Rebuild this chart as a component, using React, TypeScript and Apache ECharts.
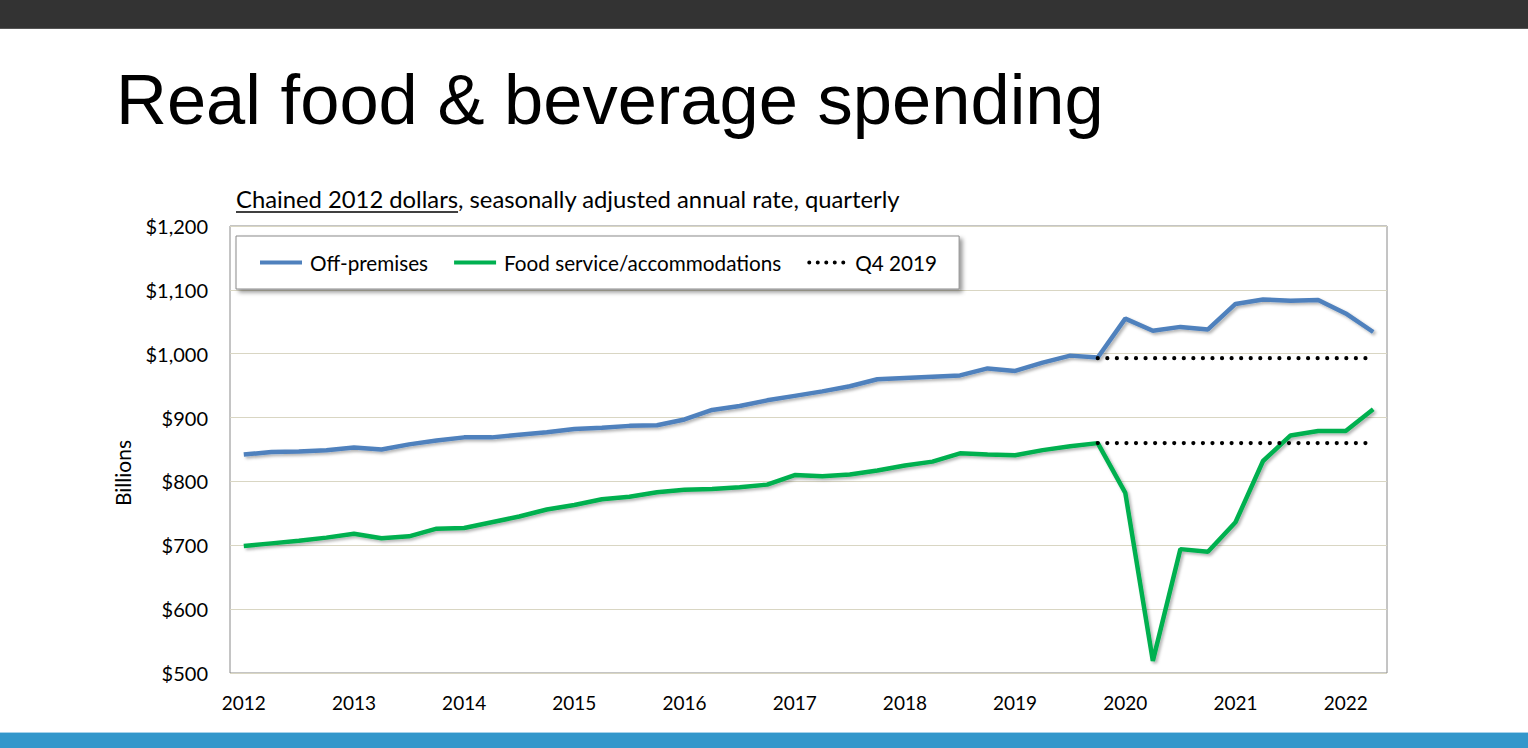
import React, { useEffect, useRef } from "react";
import * as echarts from "echarts";

const categories = [
  "2012Q1","2012Q2","2012Q3","2012Q4","2013Q1","2013Q2","2013Q3","2013Q4",
  "2014Q1","2014Q2","2014Q3","2014Q4","2015Q1","2015Q2","2015Q3","2015Q4",
  "2016Q1","2016Q2","2016Q3","2016Q4","2017Q1","2017Q2","2017Q3","2017Q4",
  "2018Q1","2018Q2","2018Q3","2018Q4","2019Q1","2019Q2","2019Q3","2019Q4",
  "2020Q1","2020Q2","2020Q3","2020Q4","2021Q1","2021Q2","2021Q3","2021Q4",
  "2022Q1","2022Q2",
];

const offPremises = [
  842, 846, 847, 849, 853, 850, 858, 864, 869, 869, 873, 877, 882, 884, 887, 888,
  897, 912, 918, 927, 934, 941, 949, 960, 962, 964, 966, 977, 973, 986, 997, 994,
  1055, 1036, 1042, 1038, 1078, 1085, 1083, 1084, 1063, 1034,
];

const foodService = [
  699, 703, 707, 712, 718, 711, 714, 726, 727, 736, 745, 756, 763, 772, 776, 783,
  787, 788, 791, 795, 810, 808, 811, 817, 825, 831, 844, 842, 841, 849, 855, 860,
  782, 519, 694, 690, 736, 832, 872, 879, 879, 913,
];

const q4Index = 31;
const q4OffValue = 993;
const q4FoodValue = 860;

const yTicks = { min: 500, max: 1200, interval: 100 };

const titleText = "Real food & beverage spending";
const subtitleUnderlined = "Chained 2012 dollars";
const subtitleRest = ", seasonally adjusted annual rate, quarterly";
const yAxisName = "Billions";

const FONT = "Lato, 'Noto Sans', sans-serif";

const DOTS_ICON =
  "path://M2,0A2,2,0,1,1,2,4A2,2,0,1,1,2,0Z" +
  "M10.5,0A2,2,0,1,1,10.5,4A2,2,0,1,1,10.5,0Z" +
  "M19,0A2,2,0,1,1,19,4A2,2,0,1,1,19,0Z" +
  "M27.5,0A2,2,0,1,1,27.5,4A2,2,0,1,1,27.5,0Z" +
  "M36,0A2,2,0,1,1,36,4A2,2,0,1,1,36,0Z";

function measure(text: string, font: string): number {
  const c = document.createElement("canvas");
  const ctx = c.getContext("2d");
  if (!ctx) return text.length * 10;
  ctx.font = font;
  return ctx.measureText(text).width;
}

export default function App() {
  const ref = useRef<HTMLDivElement>(null);

  useEffect(() => {
    if (!ref.current) return;
    const chart = echarts.init(ref.current, undefined, { renderer: "svg" });

    const q4Off = categories.map((_, i) => (i >= q4Index ? q4OffValue : null));
    const q4Food = categories.map((_, i) => (i >= q4Index ? q4FoodValue : null));

    const subSize = 23.8;
    const underlineW = measure(subtitleUnderlined, `${subSize}px Lato`);

    const shadow = {
      shadowColor: "rgba(0,0,0,0.3)",
      shadowBlur: 3,
      shadowOffsetX: 2,
      shadowOffsetY: 2,
    };

    const dotted = {
      width: 4.2,
      color: "#000000",
      type: [0.01, 9.55],
      cap: "round",
    };

    chart.setOption({
      animation: false,
      backgroundColor: "#ffffff",
      textStyle: { fontFamily: FONT },
      graphic: [
        { type: "rect", shape: { x: 0, y: 0, width: 1528, height: 28 }, style: { fill: "#333333" }, silent: true },
        { type: "rect", shape: { x: 0, y: 28, width: 1528, height: 1 }, style: { fill: "#555555" }, silent: true },
        { type: "rect", shape: { x: 0, y: 733, width: 1528, height: 15 }, style: { fill: "#3397CB" }, silent: true },
        { type: "rect", shape: { x: 0, y: 732, width: 1528, height: 1 }, style: { fill: "#A6D2EA" }, silent: true },
        {
          type: "text",
          left: 116,
          top: 64,
          style: {
            text: titleText,
            font: "70.5px 'Liberation Sans', Arial, sans-serif",
            fill: "#000000",
          },
        },
        {
          type: "text",
          x: 236,
          y: 199,
          style: {
            text: subtitleUnderlined + subtitleRest,
            font: `${subSize}px Lato`,
            fill: "#000000",
            verticalAlign: "middle",
            align: "left",
          },
        },
        {
          type: "line",
          shape: { x1: 236, y1: 212, x2: 236 + underlineW, y2: 212 },
          style: { stroke: "#000000", lineWidth: 1.5 },
        },
        {
          type: "text",
          x: 122,
          y: 473,
          rotation: Math.PI / 2,
          style: {
            text: yAxisName,
            font: "21px Lato",
            fill: "#000000",
            align: "center",
            verticalAlign: "middle",
          },
        },
      ],
      legend: {
        left: 236,
        top: 236,
        orient: "horizontal",
        padding: [16, 22, 16, 24],
        itemWidth: 42,
        itemHeight: 4,
        itemGap: 26,
        backgroundColor: "#ffffff",
        borderColor: "#8a8a8a",
        borderWidth: 1,
        shadowColor: "rgba(0,0,0,0.4)",
        shadowBlur: 4,
        shadowOffsetX: 3,
        shadowOffsetY: 3,
        textStyle: { fontFamily: FONT, fontSize: 20.7, color: "#000000", padding: [0, 0, 0, 3] },
        data: [
          { name: "Off-premises", icon: "rect" },
          { name: "Food service/accommodations", icon: "rect" },
          { name: "Q4 2019", icon: DOTS_ICON },
        ],
      },
      grid: {
        left: 230,
        right: 141,
        top: 226,
        bottom: 75,
        show: true,
        borderColor: "#8a8a8a",
        borderWidth: 1,
        containLabel: false,
      },
      xAxis: {
        type: "category",
        data: categories,
        boundaryGap: true,
        axisLine: { show: false },
        axisTick: { show: false },
        axisLabel: {
          interval: 3,
          margin: 20,
          fontFamily: FONT,
          fontSize: 19,
          color: "#000000",
          formatter: (v: string) => v.slice(0, 4),
        },
        splitLine: { show: false },
      },
      yAxis: {
        type: "value",
        min: yTicks.min,
        max: yTicks.max,
        interval: yTicks.interval,
        axisLine: { show: false },
        axisTick: { show: false },
        axisLabel: {
          margin: 22,
          fontFamily: FONT,
          fontSize: 20,
          color: "#000000",
          formatter: (v: number) => "$" + v.toLocaleString("en-US"),
        },
        splitLine: { lineStyle: { color: "#D9D6C3", width: 1 } },
      },
      series: [
        {
          name: "Off-premises",
          type: "line",
          data: offPremises,
          symbol: "none",
          color: "#4F81BD",
          lineStyle: { width: 4.5, color: "#4F81BD", ...shadow },
          z: 2,
        },
        {
          name: "Food service/accommodations",
          type: "line",
          data: foodService,
          symbol: "none",
          color: "#00B050",
          lineStyle: { width: 4.5, color: "#00B050", ...shadow },
          z: 2,
        },
        {
          name: "Q4 2019",
          type: "line",
          data: q4Off,
          symbol: "none",
          color: "#000000",
          connectNulls: false,
          lineStyle: dotted,
          z: 3,
        },
        {
          name: "Q4 2019",
          type: "line",
          data: q4Food,
          symbol: "none",
          color: "#000000",
          connectNulls: false,
          lineStyle: dotted,
          z: 3,
        },
      ],
    });

    return () => chart.dispose();
  }, []);

  return (
    <div
      ref={ref}
      style={{ position: "fixed", left: 0, top: 0, width: 1528, height: 748 }}
    />
  );
}
